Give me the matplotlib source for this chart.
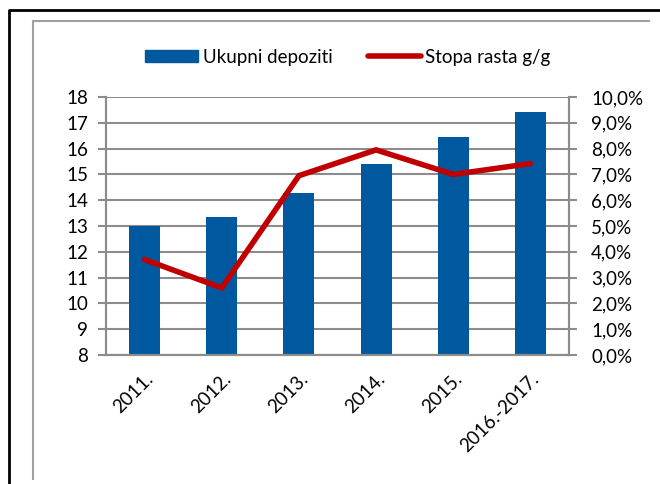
import numpy as np
import matplotlib.pyplot as plt
from matplotlib.lines import Line2D
from matplotlib.patches import Patch
from matplotlib.ticker import FuncFormatter

"""Data"""
categories = ["2011.", "2012.", "2013.", "2014.", "2015.", "2016.-2017."]
deposits = [13.0, 13.33, 14.27, 15.39, 16.45, 17.4]
growth = [3.7, 2.6, 6.95, 7.95, 7.0, 7.42]

bar_color = "#00599E"
line_color = "#C00000"
grid_color = "#8C8C8C"
fs = 13.5

plt.rcParams["font.family"] = ["Lato", "DejaVu Sans"]

fig = plt.figure(figsize=(6.6, 4.84), dpi=100)
ax = fig.add_axes([106 / 660, 1 - 355 / 484, 463 / 660, 258 / 484])
ax2 = ax.twinx()

x = np.arange(len(categories))
ax.bar(x, deposits, width=0.4, color=bar_color, zorder=2)
ax2.plot(x, growth, color=line_color, lw=4, solid_capstyle="round", zorder=3)

ax.set_xlim(-0.5, len(categories) - 0.5)
ax.set_ylim(8, 18)
ax.set_yticks(np.arange(8, 19, 1))
ax2.set_ylim(0, 10)
ax2.set_yticks(np.arange(0, 11, 1))
ax2.yaxis.set_major_formatter(FuncFormatter(lambda v, p: f"{v:.1f}%".replace(".", ",")))

ax.yaxis.grid(True, color=grid_color, lw=1.5, zorder=0)
ax.set_axisbelow(True)
ax.set_xticks(x)
ax.set_xticklabels(categories, rotation=45, ha="right", rotation_mode="anchor")
ax.tick_params(axis="x", length=0, pad=11, labelsize=fs)
ax.tick_params(axis="y", length=6, width=1.5, color=grid_color, labelsize=fs, pad=7)
ax2.tick_params(axis="y", length=6, width=1.5, color=grid_color, labelsize=fs, pad=10)

for a in (ax, ax2):
    for s in a.spines.values():
        s.set_color(grid_color)
        s.set_linewidth(1.5)
    a.spines["top"].set_visible(False)

ax2.set_zorder(ax.get_zorder() + 1)
ax2.patch.set_visible(False)

handles = [Patch(color=bar_color), Line2D([0], [0], color=line_color, lw=4, solid_capstyle="round")]
fig.legend(handles, ["Ukupni depoziti", "Stopa rasta g/g"], loc="center",
           bbox_to_anchor=(348 / 660, 1 - 57 / 484), ncol=2, frameon=False,
           fontsize=fs, handlelength=2.8, handleheight=0.55, handletextpad=0.25,
           columnspacing=1.9)

"""Frames"""
fig.add_artist(Line2D([9 / 660, 9 / 660, 1], [0, 1 - 10 / 484, 1 - 10 / 484],
                      color="black", lw=2, transform=fig.transFigure))
fig.add_artist(Line2D([33 / 660, 33 / 660, 649 / 660], [1 - 479 / 484, 1 - 21 / 484, 1 - 21 / 484],
                      color="#A0A0A0", lw=1.5, transform=fig.transFigure))

fig.savefig("out.png", dpi=100)
